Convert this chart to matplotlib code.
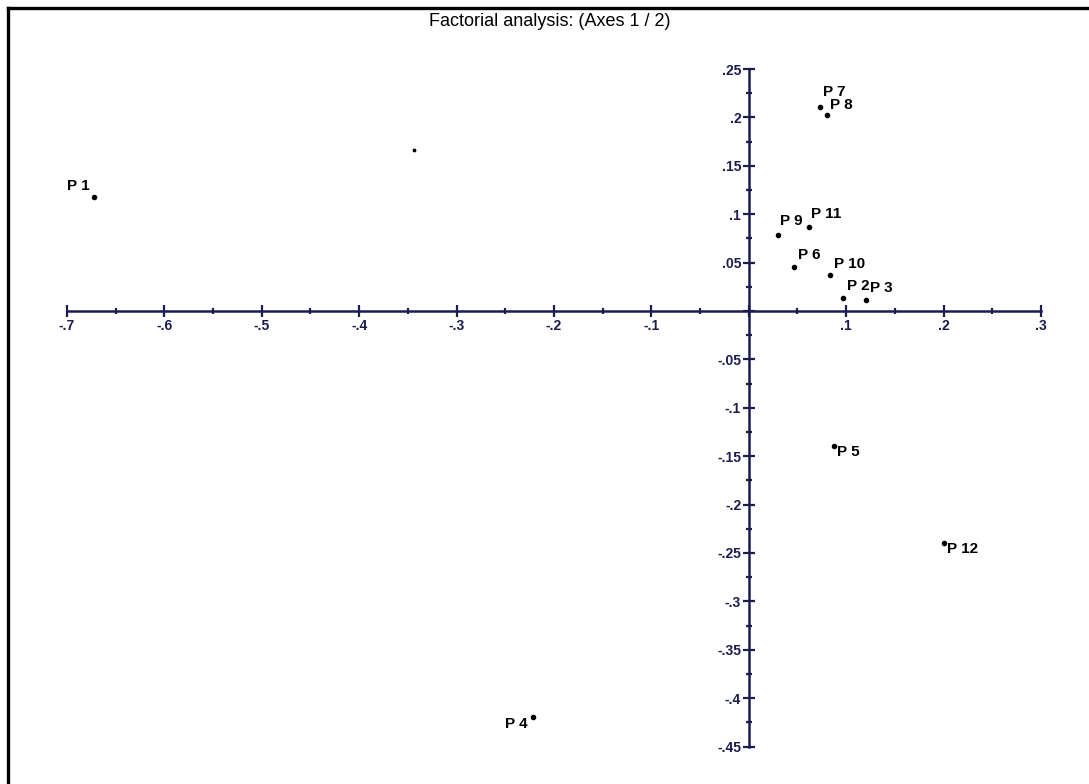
import numpy as np
import matplotlib
matplotlib.use("Agg")
import matplotlib.pyplot as plt
from matplotlib.ticker import FuncFormatter
from matplotlib.lines import Line2D

plt.rcParams['font.family'] = ['Liberation Sans', 'DejaVu Sans']

# factor scores (axis 1, axis 2)
labels = ['P 1', 'P 2', 'P 3', 'P 4', 'P 5', 'P 6', 'P 7', 'P 8', 'P 9', 'P 10', 'P 11', 'P 12']
axis1 = [-0.672, 0.097, 0.120, -0.222, 0.087, 0.046, 0.073, 0.080, 0.030, 0.083, 0.062, 0.200]
axis2 = [0.118, 0.013, 0.011, -0.419, -0.139, 0.045, 0.211, 0.202, 0.078, 0.037, 0.087, -0.240]
# lone unlabeled point
extra_x = [-0.344]
extra_y = [0.166]

# label offsets in pixels (dx, dy, ha, va)
offs = {
    'P 1': (-5, 4, 'right', 'bottom'),
    'P 2': (4, 5, 'left', 'bottom'),
    'P 3': (4, 5, 'left', 'bottom'),
    'P 4': (-5, 0, 'right', 'top'),
    'P 5': (3, 1, 'left', 'top'),
    'P 6': (4, 5, 'left', 'bottom'),
    'P 7': (3, 8, 'left', 'bottom'),
    'P 8': (3, 3, 'left', 'bottom'),
    'P 9': (2, 7, 'left', 'bottom'),
    'P 10': (4, 4, 'left', 'bottom'),
    'P 11': (2, 6, 'left', 'bottom'),
    'P 12': (3, 1, 'left', 'top'),
}

axcol = '#1c1c50'

fig = plt.figure(figsize=(10.89, 7.84), dpi=100)
ax = fig.add_axes([0, 0, 1, 1])
ax.set_xlim(-0.7 - 67 / 974, -0.7 - 67 / 974 + 1089 / 974)
ax.set_ylim(311 / 968 - 784 / 968, 311 / 968)

for s in ['top', 'right']:
    ax.spines[s].set_visible(False)
ax.spines['left'].set_position(('data', 0))
ax.spines['bottom'].set_position(('data', 0))
ax.spines['left'].set_bounds(-0.45, 0.25)
ax.spines['bottom'].set_bounds(-0.7, 0.3)
for s in ['left', 'bottom']:
    ax.spines[s].set_color(axcol)
    ax.spines[s].set_linewidth(1.8)

def fmt(v, pos):
    if abs(v) < 1e-9:
        return ''
    s = ('%.2f' % v).rstrip('0').rstrip('.')
    return s.replace('0.', '.')

ax.set_xticks(np.arange(-0.7, 0.31, 0.1))
ax.set_yticks(np.arange(-0.45, 0.26, 0.05))
ax.set_xticks(np.arange(-0.65, 0.3, 0.1), minor=True)
ax.set_yticks(np.arange(-0.425, 0.25, 0.05), minor=True)
ax.xaxis.set_major_formatter(FuncFormatter(fmt))
ax.yaxis.set_major_formatter(FuncFormatter(fmt))

ax.tick_params(which='major', direction='inout', length=9, width=1.6, color=axcol,
               labelsize=10, pad=1)
ax.tick_params(which='minor', direction='inout', length=4, width=1.6, color=axcol)
for t in ax.get_xticklabels() + ax.get_yticklabels():
    t.set_fontweight('bold')
    t.set_color(axcol)

ax.scatter(axis1, axis2, s=9, color='black', zorder=3)
ax.scatter(extra_x, extra_y, s=3, color='black', zorder=3)
for lab, x, y in zip(labels, axis1, axis2):
    dx, dy, ha, va = offs[lab]
    ax.annotate(lab, (x, y), xytext=(dx, dy), textcoords='offset pixels',
                ha=ha, va=va, fontsize=11, fontweight='bold', color='black')

fig.text(550 / 1089, 1 - 22 / 784, 'Factorial analysis: (Axes 1 / 2)', ha='center', va='center',
         fontsize=13)

# page frame (left and top edges)
fig.add_artist(Line2D([7.5 / 1089, 7.5 / 1089], [0, 1 - 8 / 784], transform=fig.transFigure,
                      color='black', linewidth=2.4))
fig.add_artist(Line2D([7.5 / 1089, 1], [1 - 8 / 784, 1 - 8 / 784], transform=fig.transFigure,
                      color='black', linewidth=2.4))

fig.savefig('out.png', dpi=100)
